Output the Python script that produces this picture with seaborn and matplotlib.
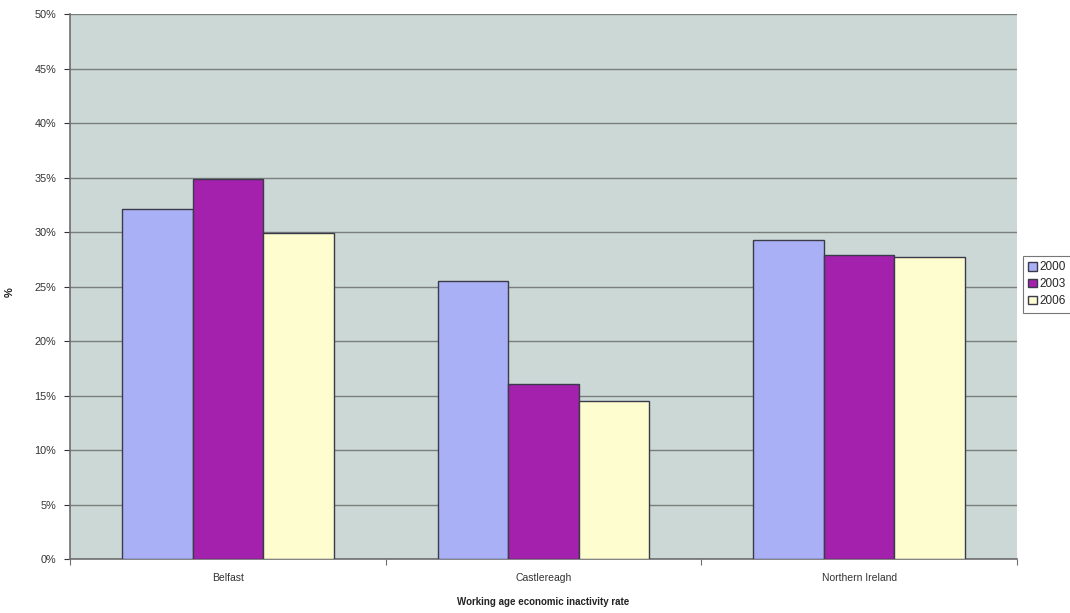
import matplotlib
matplotlib.use("Agg")
import matplotlib.pyplot as plt
import seaborn as sns
import pandas as pd
from matplotlib.ticker import PercentFormatter, FixedLocator

# Working age economic inactivity rate (%)
areas = ["Belfast", "Castlereagh", "Northern Ireland"]
years = ["2000", "2003", "2006"]
rate_2000 = [32.1, 25.5, 29.3]
rate_2003 = [34.9, 16.1, 27.9]
rate_2006 = [29.9, 14.5, 27.7]

bar_colors = ["#aab0f5", "#a421ad", "#fdfdcf"]

df = pd.DataFrame({
    "area": areas * 3,
    "year": [years[0]] * 3 + [years[1]] * 3 + [years[2]] * 3,
    "rate": rate_2000 + rate_2003 + rate_2006,
})

sns.set_style("white")
plt.rcParams["font.family"] = ["Liberation Sans", "DejaVu Sans"]

fig = plt.figure(figsize=(10.7, 6.13), dpi=100)
ax = fig.add_axes([0.0654, 0.088, 0.885, 0.889])
ax.set_facecolor("#cbd8d5")

sns.barplot(data=df, x="area", y="rate", hue="year", order=areas,
            hue_order=years, palette=bar_colors, width=0.67,
            edgecolor="#3a3a4a", linewidth=1.0, saturation=1.0,
            ax=ax, zorder=3)

ax.set_ylim(0, 50)
ax.set_xlim(-0.5, 2.5)
ax.yaxis.set_major_locator(FixedLocator(range(0, 51, 5)))
ax.yaxis.set_major_formatter(PercentFormatter(decimals=0))
ax.grid(axis="y", color="#7a7f7e", linewidth=1.0, zorder=0)
ax.set_axisbelow(True)

for side in ["top", "right"]:
    ax.spines[side].set_visible(False)
for side in ["left", "bottom"]:
    ax.spines[side].set_color("#6e6e6e")
    ax.spines[side].set_linewidth(1.2)

ax.tick_params(axis="y", labelsize=7.8, colors="#333333", length=4,
               width=0.8, left=True, pad=6)
ax.tick_params(axis="x", labelsize=7.5, colors="#333333", length=0, pad=10)
ax.set_xticks([0, 1, 2], areas)
# category separators along the bottom axis
ax.set_xticks([-0.5, 0.5, 1.5, 2.5], minor=True)
ax.tick_params(axis="x", which="minor", length=4, width=0.8,
               color="#6e6e6e", bottom=True)

ax.set_xlabel("Working age economic inactivity rate", fontsize=7,
              fontweight="bold", color="#222222", labelpad=10)
ax.set_ylabel("%", fontsize=8, fontweight="bold", color="#222222",
              rotation=90)
ax.yaxis.set_label_coords(-0.058, 0.49)

handles, labels = ax.get_legend_handles_labels()
leg = ax.legend(handles, labels, loc="upper left",
                bbox_to_anchor=(1023 / 1070, 1 - 256 / 613),
                bbox_transform=fig.transFigure, frameon=True,
                fontsize=8.5, handlelength=0.75, handleheight=0.75,
                handletextpad=0.2, labelspacing=0.42, borderpad=0.45,
                borderaxespad=0, fancybox=False)
leg.get_frame().set_edgecolor("#555555")
leg.get_frame().set_linewidth(0.8)
leg.set_clip_on(False)

fig.savefig("out.png", dpi=100, facecolor="white")
